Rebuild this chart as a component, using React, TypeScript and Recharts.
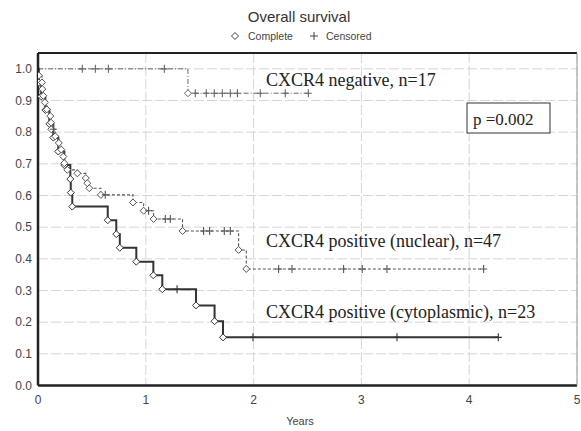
import React from 'react';
import { LineChart, Line, XAxis, YAxis, CartesianGrid, ReferenceLine } from 'recharts';

// kinds: S = start, D = death (complete), C = censored
const negT = [0, 0.411, 0.532, 0.653, 1.172, 1.391, 1.459, 1.561, 1.635, 1.71, 1.784, 1.85, 2.062, 2.294, 2.508];
const negS = [1, 1, 1, 1, 1, 0.923, 0.923, 0.923, 0.923, 0.923, 0.923, 0.923, 0.923, 0.923, 0.923];
const negK = 'SCCCCDCCCCCCCCC';

const nucT = [0, 0.007, 0.037, 0.04, 0.049, 0.063, 0.082, 0.114, 0.121, 0.123, 0.142, 0.16, 0.193, 0.216, 0.235, 0.244,
  0.272, 0.365, 0.443, 0.457, 0.476, 0.583, 0.624, 0.881, 0.98, 1.026, 1.072, 1.181, 1.227, 1.341, 1.536, 1.592,
  1.728, 1.784, 1.861, 1.932, 2.232, 2.356, 2.835, 3.008, 3.237, 4.134];
const nucS = [1, 0.979, 0.957, 0.936, 0.915, 0.894, 0.872, 0.851, 0.83, 0.809, 0.809, 0.787, 0.766, 0.745, 0.723, 0.702,
  0.681, 0.67, 0.655, 0.639, 0.623, 0.602, 0.602, 0.578, 0.552, 0.552, 0.526, 0.526, 0.526, 0.488, 0.488, 0.488,
  0.488, 0.488, 0.428, 0.368, 0.368, 0.368, 0.368, 0.368, 0.368, 0.368];
const nucK = 'SDDDDDDDDDCDDDDDDDDDDDCDDCDCCDCCCCDDCCCCCC';

const cytT = [0, 0.007, 0.03, 0.068, 0.105, 0.142, 0.188, 0.244, 0.3, 0.304, 0.318, 0.647, 0.726, 0.759, 0.912, 1.07,
  1.153, 1.29, 1.466, 1.638, 1.716, 1.994, 3.33, 4.27];
const cytS = [1, 0.957, 0.913, 0.87, 0.826, 0.783, 0.739, 0.696, 0.652, 0.609, 0.565, 0.522, 0.478, 0.435, 0.391, 0.348,
  0.304, 0.304, 0.253, 0.203, 0.152, 0.152, 0.152, 0.152];
const cytK = 'SDDDDDDDDDDDDDDDDCDDDCCC';

const xTicks = [0, 1, 2, 3, 4, 5];
const yTicks = [0, 0.1, 0.2, 0.3, 0.4, 0.5, 0.6, 0.7, 0.8, 0.9, 1.0];

const build = (t: number[], s: number[], k: string) => t.map((x, i) => ({ t: x, s: s[i], k: k[i] }));

const negData = build(negT, negS, negK);
const nucData = build(nucT, nucS, nucK);
const cytData = build(cytT, cytS, cytK);

const SANS = '"Liberation Sans", Arial, sans-serif';
const SERIF = '"Liberation Serif", "Times New Roman", serif';

const mark = (color: string) => (props: any) => {
  const { cx, cy, payload, index } = props;
  const key = `m-${index}`;
  if (payload.k === 'D') {
    const r = 3.5;
    return (
      <path key={key} d={`M${cx},${cy - r}L${cx + r},${cy}L${cx},${cy + r}L${cx - r},${cy}Z`}
        fill="#fff" stroke={color} strokeWidth={1} />
    );
  }
  if (payload.k === 'C') {
    return (
      <path key={key} d={`M${cx},${cy - 4}V${cy + 4}M${cx - 3.5},${cy}H${cx + 3.5}`}
        stroke={color} strokeWidth={1.1} fill="none" />
    );
  }
  return <g key={key} />;
};

export default function App() {
  return (
    <div style={{ position: 'absolute', left: 0, top: 0, width: 581, height: 431, background: '#fff' }}>
      <LineChart width={581} height={431} margin={{ top: 53, right: 0, bottom: 0, left: 0 }}>
        <CartesianGrid stroke="#d6d6d6" strokeDasharray="10 3" />
        <XAxis type="number" dataKey="t" domain={[0, 5]} ticks={xTicks} allowDataOverflow
          height={45.5} tickSize={0} tickMargin={10}
          axisLine={{ stroke: '#222', strokeWidth: 2.5 }}
          tick={{ fill: '#444', fontSize: 12, fontFamily: SANS }} />
        <YAxis type="number" domain={[0, 1.05]} ticks={yTicks} allowDataOverflow width={38}
          tickSize={0} tickMargin={6} tickFormatter={(v: number) => v.toFixed(1)}
          axisLine={{ stroke: '#222', strokeWidth: 2.5 }}
          tick={{ fill: '#444', fontSize: 12, fontFamily: SANS }} />
        <YAxis yAxisId="r" orientation="right" type="number" domain={[0, 1.05]} ticks={yTicks} width={4}
          tickSize={4} tickFormatter={() => ''} axisLine={{ stroke: '#999' }} tickLine={{ stroke: '#666' }} />
        <ReferenceLine y={1.05} stroke="#222" strokeWidth={2} />
        <Line data={negData} dataKey="s" type="stepAfter" stroke="#666" strokeWidth={1}
          strokeDasharray="5 2 1 2" dot={mark('#666')} activeDot={false} isAnimationActive={false} />
        <Line data={cytData} dataKey="s" type="stepAfter" stroke="#333" strokeWidth={2}
          dot={mark('#333')} activeDot={false} isAnimationActive={false} />
        <Line data={nucData} dataKey="s" type="stepAfter" stroke="#555" strokeWidth={1.1}
          strokeDasharray="3 2" dot={mark('#555')} activeDot={false} isAnimationActive={false} />
      </LineChart>
      <svg width={581} height={431} style={{ position: 'absolute', left: 0, top: 0, pointerEvents: 'none' }}>
        <text x={299} y={22} textAnchor="middle" fontFamily={SANS} fontSize={15} fill="#333">Overall survival</text>
        <path d="M235,32.5L238.5,36L235,39.5L231.5,36Z" fill="#fff" stroke="#444" strokeWidth={1} />
        <text x={248} y={40} fontFamily={SANS} fontSize={10.5} fill="#444">Complete</text>
        <path d="M314,32V40M310,36H318" stroke="#444" strokeWidth={1} />
        <text x={326} y={40} fontFamily={SANS} fontSize={10.5} fill="#444">Censored</text>
        <text x={266} y={86} fontFamily={SERIF} fontSize={18} fill="#222">CXCR4 negative, n=17</text>
        <text x={266} y={247} fontFamily={SERIF} fontSize={18} fill="#222">CXCR4 positive (nuclear), n=47</text>
        <text x={266} y={318} fontFamily={SERIF} fontSize={18} fill="#222">CXCR4 positive (cytoplasmic), n=23</text>
        <rect x={467} y={103} width={83} height={30} fill="#fff" stroke="#333" strokeWidth={1} />
        <text x={473} y={125} fontFamily={SERIF} fontSize={17} fill="#222">p =0.002</text>
        <text x={300} y={425} textAnchor="middle" fontFamily={SANS} fontSize={11} fill="#444">Years</text>
      </svg>
    </div>
  );
}
